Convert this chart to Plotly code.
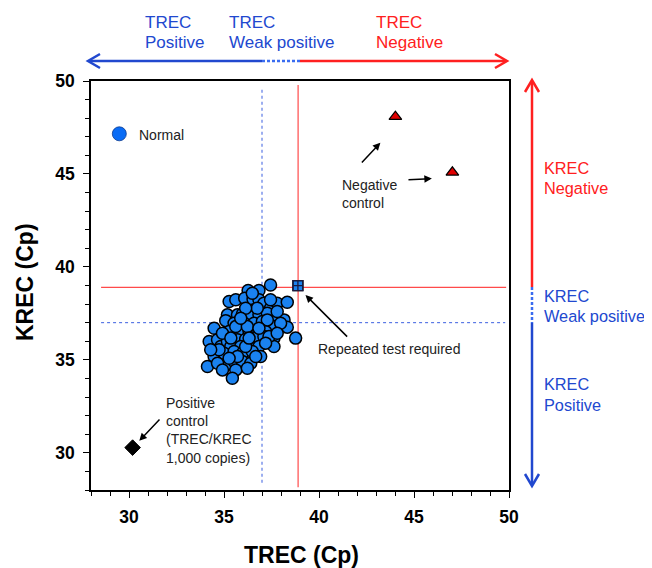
import plotly.graph_objects as go

# ---- data (Cp values) ----
normal_trec = [37.45, 36.27, 36.84, 35.27, 35.62, 36.09, 36.53, 36.84, 37.10, 37.45,
               37.80, 38.33, 36.58, 35.18, 35.71, 35.97, 36.40, 36.84, 37.28, 37.80,
               38.16, 34.48, 35.09, 35.53, 36.06, 36.58, 37.02, 37.63, 38.33, 34.22,
               34.66, 35.27, 35.79, 36.32, 36.76, 37.19, 37.63, 34.83, 35.18, 35.71,
               36.14, 36.58, 37.10, 34.48, 35.36, 35.88, 36.41, 36.84, 37.63, 35.00,
               35.53, 35.97, 36.49, 36.93, 35.09, 35.53, 35.97, 36.41, 34.13, 35.62,
               35.44, 38.77, 37.28, 36.75, 36.14, 37.45, 34.92, 35.62, 36.23, 36.84,
               37.37, 34.74, 36.14, 36.67, 35.71, 35.27, 34.66, 36.23, 34.92, 37.98,
               37.80, 37.19, 36.32, 35.36, 35.88, 36.49, 37.80, 34.30]
normal_krec = [39.03, 38.73, 38.73, 38.14, 38.23, 38.31, 38.26, 38.23, 38.05, 37.78,
               38.05, 38.10, 37.69, 37.42, 37.42, 37.47, 37.33, 37.42, 37.51, 37.24,
               37.15, 36.70, 37.11, 36.97, 36.97, 36.97, 37.06, 36.79, 36.76, 35.99,
               36.08, 36.52, 36.52, 36.52, 36.43, 36.52, 36.17, 35.72, 35.99, 36.08,
               36.11, 36.17, 36.26, 35.18, 35.72, 35.72, 35.72, 35.72, 35.72, 35.36,
               35.45, 35.36, 35.45, 35.18, 34.73, 34.91, 34.91, 34.82, 34.64, 34.46,
               34.01, 36.17, 37.15, 37.78, 37.78, 38.23, 36.43, 36.79, 36.79, 36.70,
               36.26, 35.54, 35.72, 35.18, 35.18, 35.09, 34.82, 34.55, 34.46, 36.97,
               36.43, 35.90, 36.17, 36.17, 37.24, 38.58, 37.60, 35.54]

neg_ctrl_trec = [44.02, 47.02]
neg_ctrl_krec = [48.08, 45.09]

pos_ctrl_trec = [30.19]
pos_ctrl_krec = [30.28]

repeat_trec = [38.89]
repeat_krec = [38.99]

legend_trec = [29.49]
legend_krec = [47.16]

TREC_WEAK_CUTOFF = 37.0
TREC_NEG_CUTOFF = 38.9
KREC_WEAK_CUTOFF = 37.0
KREC_NEG_CUTOFF = 38.9

x_ticks = [30, 35, 40, 45, 50]
y_ticks = [30, 35, 40, 45, 50]

# ---- styling ----
FONT = "Arial, Liberation Sans, sans-serif"
BLUE_PT = "#1a82f0"
BLUE_TXT = "#2148cf"
RED_TXT = "#ff2020"
BLUE_LN = "#2148cf"
RED_LN = "#ff2020"

fig = go.Figure()

# threshold lines (drawn first so markers sit on top)
fig.add_trace(go.Scatter(x=[TREC_WEAK_CUTOFF, TREC_WEAK_CUTOFF], y=[28.39, 49.68], mode="lines",
                         line=dict(color="#3a5fe0", width=1, dash="dot"), hoverinfo="skip"))
fig.add_trace(go.Scatter(x=[28.53, 49.8], y=[KREC_WEAK_CUTOFF, KREC_WEAK_CUTOFF], mode="lines",
                         line=dict(color="#3a5fe0", width=1, dash="dot"), hoverinfo="skip"))
fig.add_trace(go.Scatter(x=[TREC_NEG_CUTOFF, TREC_NEG_CUTOFF], y=[28.15, 49.78], mode="lines",
                         line=dict(color="#ff4a4a", width=1.2), hoverinfo="skip"))
fig.add_trace(go.Scatter(x=[28.53, 49.85], y=[KREC_NEG_CUTOFF, KREC_NEG_CUTOFF], mode="lines",
                         line=dict(color="#ff4a4a", width=1.2), hoverinfo="skip"))

# normal samples
fig.add_trace(go.Scatter(x=normal_trec, y=normal_krec, mode="markers",
                         marker=dict(symbol="circle", size=12, color=BLUE_PT,
                                     line=dict(color="black", width=1.5))))
# legend marker
fig.add_trace(go.Scatter(x=legend_trec, y=legend_krec, mode="markers",
                         marker=dict(symbol="circle", size=14, color="#0a6cf5",
                                     line=dict(color="#0a3a90", width=0.8))))
# negative controls
fig.add_trace(go.Scatter(x=neg_ctrl_trec, y=neg_ctrl_krec, mode="markers",
                         marker=dict(symbol="triangle-up", size=11, color="#e00000",
                                     line=dict(color="black", width=1.2))))
# positive control
fig.add_trace(go.Scatter(x=pos_ctrl_trec, y=pos_ctrl_krec, mode="markers",
                         marker=dict(symbol="diamond", size=12, color="black",
                                     line=dict(color="black", width=1))))
# repeated test
fig.add_trace(go.Scatter(x=repeat_trec, y=repeat_krec, mode="markers",
                         marker=dict(symbol="square", size=10, color=BLUE_PT,
                                     line=dict(color="black", width=1.2))))
fig.add_trace(go.Scatter(x=repeat_trec, y=repeat_krec, mode="markers",
                         marker=dict(symbol="square-cross-open", size=10, color="#1a1a40",
                                     line=dict(width=1.3))))

# ---- page pixel -> paper helper for outside decorations ----
# The page body has an 8px margin, so the figure starts at (8, 8) in the window.
OFF = 8
L, R, T, B = 91, 509, 81, 490
W, H = 652 - OFF, 568 - OFF


def P(px, py):
    return (px - L) / (R - L), (B - py) / (B - T)


shapes = []


def seg(p0, p1, color, dash="solid", width=2.5):
    x0, y0 = P(*p0)
    x1, y1 = P(*p1)
    shapes.append(dict(type="line", xref="paper", yref="paper", x0=x0, y0=y0, x1=x1, y1=y1,
                       line=dict(color=color, width=width, dash=dash)))


def chevron(a, tip, b, color):
    pts = [P(*a), P(*tip), P(*b)]
    path = "M {},{} L {},{} L {},{}".format(pts[0][0], pts[0][1], pts[1][0], pts[1][1],
                                           pts[2][0], pts[2][1])
    shapes.append(dict(type="path", xref="paper", yref="paper", path=path,
                       line=dict(color=color, width=2.5)))


# top TREC arrow
seg((89, 61), (262, 61), BLUE_LN)
seg((262, 61), (300, 61), "#3a6cf0", dash="3px,2px")
seg((300, 61), (506, 61), RED_LN)
chevron((100, 54), (88, 61), (100, 68), BLUE_LN)
chevron((495, 54), (507, 61), (495, 68), RED_LN)

# right KREC arrow
seg((532, 81), (532, 287), RED_LN)
seg((532, 287), (532, 323), "#3a6cf0", dash="3px,2px")
seg((532, 323), (532, 485), BLUE_LN)
chevron((525, 92), (532, 80), (539, 92), RED_LN)
chevron((525, 474), (532, 486), (539, 474), BLUE_LN)

annotations = []


def ptxt(text, px, py, color, size=17, xanchor="left"):
    x, y = P(px, py)
    annotations.append(dict(text=text, x=x, y=y, xref="paper", yref="paper", showarrow=False,
                            xanchor=xanchor, yanchor="middle",
                            font=dict(family=FONT, size=size, color=color)))


ptxt("TREC", 143, 22, BLUE_TXT)
ptxt("Positive", 143, 42, BLUE_TXT)
ptxt("TREC", 227, 22, BLUE_TXT)
ptxt("Weak positive", 227, 42, BLUE_TXT)
ptxt("TREC", 374, 22, RED_TXT)
ptxt("Negative", 374, 42, RED_TXT)

RS = 16.3
ptxt("KREC", 542, 168, RED_TXT, size=RS)
ptxt("Negative", 542, 188, RED_TXT, size=RS)
ptxt("KREC", 542, 296, BLUE_TXT, size=RS)
ptxt("Weak positive", 542, 316, BLUE_TXT, size=RS)
ptxt("KREC", 542, 384, BLUE_TXT, size=RS)
ptxt("Positive", 542, 405, BLUE_TXT, size=RS)

# axis titles
xt, yt = P(301, 555)
annotations.append(dict(text="<b>TREC (Cp)</b>", x=xt, y=yt, xref="paper", yref="paper",
                        showarrow=False, xanchor="center", yanchor="middle",
                        font=dict(family=FONT, size=23, color="black")))
xt, yt = P(25, 282)
annotations.append(dict(text="<b>KREC (Cp)</b>", x=xt, y=yt, xref="paper", yref="paper",
                        showarrow=False, xanchor="center", yanchor="middle", textangle=-90,
                        font=dict(family=FONT, size=23, color="black")))

# in-plot labels
TXT = "#222222"
annotations.append(dict(text="Normal", x=30.42, y=47.12, xref="x", yref="y", showarrow=False,
                        xanchor="left", yanchor="middle", font=dict(family=FONT, size=14, color=TXT)))
annotations.append(dict(text="Negative<br>control", x=41.08, y=43.91, xref="x", yref="y",
                        showarrow=False, xanchor="left", yanchor="middle", align="left",
                        font=dict(family=FONT, size=14, color=TXT)))
annotations.append(dict(text="Repeated test required", x=39.82, y=35.58, xref="x", yref="y",
                        showarrow=False, xanchor="left", yanchor="middle",
                        font=dict(family=FONT, size=14, color=TXT)))
annotations.append(dict(text="Positive<br>control<br>(TREC/KREC<br>1,000 copies)", x=31.86, y=31.21,
                        xref="x", yref="y", showarrow=False, xanchor="left", yanchor="middle",
                        align="left", font=dict(family=FONT, size=14, color=TXT)))

# arrows
for (hx, hy, tx, ty) in [(30.54, 30.645, 31.68, 31.87),
                         (43.23, 46.68, 42.18, 45.54),
                         (45.94, 44.75, 44.63, 44.68),
                         (39.29, 38.49, 41.56, 36.17)]:
    annotations.append(dict(text="", x=hx, y=hy, ax=tx, ay=ty, xref="x", yref="y",
                            axref="x", ayref="y", showarrow=True, arrowhead=2, arrowsize=1,
                            arrowwidth=1.5, arrowcolor="black"))

fig.update_layout(
    width=W, height=H, autosize=False,
    margin=dict(l=L - OFF, r=652 - R, t=T - OFF, b=568 - B),
    paper_bgcolor="white", plot_bgcolor="white",
    showlegend=False,
    shapes=shapes, annotations=annotations,
    font=dict(family=FONT, color="black"),
)

axis_common = dict(showgrid=False, zeroline=False, showline=True, linecolor="black", linewidth=1.5,
                   mirror=True, ticks="outside", ticklen=6, tickwidth=1.3, tickcolor="black",
                   tickfont=dict(family=FONT, size=17.5, color="black", weight="bold"),
                   minor=dict(ticks="outside", ticklen=4, tickwidth=1, tickcolor="black", dtick=1))

fig.update_xaxes(range=[28, 50], tickvals=x_ticks, ticktext=[str(v) for v in x_ticks],
                 ticklabelstandoff=4, **axis_common)
fig.update_yaxes(range=[28, 50], tickvals=y_ticks, ticktext=[str(v) for v in y_ticks],
                 ticklabelstandoff=5, **axis_common)

fig.write_html("out.html")
